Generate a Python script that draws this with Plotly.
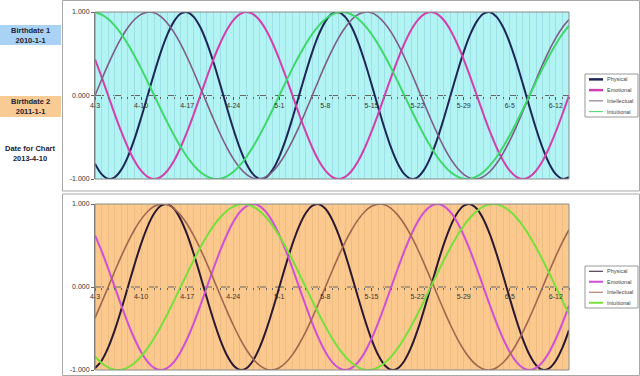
import plotly.graph_objects as go
import pandas as pd

W, H = 640, 376
FONT = "Liberation Sans, Arial, sans-serif"

# ---------------- data ----------------
START_DATE = "2013-04-03"
N_DAYS = 73
dates = pd.date_range(START_DATE, periods=N_DAYS).strftime("%Y-%m-%d").tolist()

SERIES_NAMES = ["Physical", "Emotional", "Intellectual", "Intuitional"]
LEFT_LABELS = [("Birthdate 1", "2010-1-1"), ("Birthdate 2", "2011-1-1"), ("Date for Chart", "2013-4-10")]

# Panel 1 (birthdate 2010-1-1)
top_physical = [
    -0.817, -0.942, -0.998, -0.979, -0.888, -0.731, -0.520, -0.270,
    0.000, 0.270, 0.520, 0.731, 0.888, 0.979, 0.998, 0.942, 0.817, 0.631, 0.398, 0.136,
    -0.136, -0.398, -0.631, -0.817, -0.942, -0.998, -0.979, -0.888, -0.731, -0.520, -0.270,
    0.000, 0.270, 0.520, 0.731, 0.888, 0.979, 0.998, 0.942, 0.817, 0.631, 0.398, 0.136,
    -0.136, -0.398, -0.631, -0.817, -0.942, -0.998, -0.979, -0.888, -0.731, -0.520, -0.270,
    0.000, 0.270, 0.520, 0.731, 0.888, 0.979, 0.998, 0.942, 0.817, 0.631, 0.398, 0.136,
    -0.136, -0.398, -0.631, -0.817, -0.942, -0.998, -0.979,
]
top_emotional = [
    0.434, 0.223, 0.000, -0.223, -0.434, -0.623, -0.782, -0.901, -0.975, -1.000,
    -0.975, -0.901, -0.782, -0.623, -0.434, -0.223,
    0.000, 0.223, 0.434, 0.623, 0.782, 0.901, 0.975, 1.000, 0.975, 0.901, 0.782, 0.623, 0.434, 0.223,
    0.000, -0.223, -0.434, -0.623, -0.782, -0.901, -0.975, -1.000, -0.975, -0.901, -0.782, -0.623, -0.434, -0.223,
    0.000, 0.223, 0.434, 0.623, 0.782, 0.901, 0.975, 1.000, 0.975, 0.901, 0.782, 0.623, 0.434, 0.223,
    0.000, -0.223, -0.434, -0.623, -0.782, -0.901, -0.975, -1.000, -0.975, -0.901, -0.782, -0.623, -0.434, -0.223,
    0.000,
]
top_intellectual = [
    0.000, 0.189, 0.372, 0.541, 0.690, 0.815, 0.910, 0.972, 0.999, 0.990, 0.945, 0.866, 0.756,
    0.618, 0.458, 0.282, 0.095, -0.095, -0.282, -0.458, -0.618, -0.756, -0.866, -0.945, -0.990,
    -0.999, -0.972, -0.910, -0.815, -0.690, -0.541, -0.372, -0.189,
    0.000, 0.189, 0.372, 0.541, 0.690, 0.815, 0.910, 0.972, 0.999, 0.990, 0.945, 0.866, 0.756,
    0.618, 0.458, 0.282, 0.095, -0.095, -0.282, -0.458, -0.618, -0.756, -0.866, -0.945, -0.990,
    -0.999, -0.972, -0.910, -0.815, -0.690, -0.541, -0.372, -0.189,
    0.000, 0.189, 0.372, 0.541, 0.690, 0.815, 0.910,
]
top_intuitional = [
    0.997, 0.969, 0.916, 0.837, 0.736, 0.614, 0.476, 0.325, 0.165, 0.000,
    -0.165, -0.325, -0.476, -0.614, -0.736, -0.837, -0.916, -0.969, -0.997, -0.997,
    -0.969, -0.916, -0.837, -0.736, -0.614, -0.476, -0.325, -0.165,
    0.000, 0.165, 0.325, 0.476, 0.614, 0.736, 0.837, 0.916, 0.969, 0.997, 0.997, 0.969, 0.916,
    0.837, 0.736, 0.614, 0.476, 0.325, 0.165, 0.000, -0.165, -0.325, -0.476, -0.614, -0.736,
    -0.837, -0.916, -0.969, -0.997, -0.997, -0.969, -0.916, -0.837, -0.736, -0.614, -0.476,
    -0.325, -0.165,
    0.000, 0.165, 0.325, 0.476, 0.614, 0.736, 0.837,
]

# Panel 2 (birthdate 2011-1-1)
bottom_physical = [
    -0.979, -0.888, -0.731, -0.520, -0.270,
    0.000, 0.270, 0.520, 0.731, 0.888, 0.979, 0.998, 0.942, 0.817, 0.631, 0.398, 0.136,
    -0.136, -0.398, -0.631, -0.817, -0.942, -0.998, -0.979, -0.888, -0.731, -0.520, -0.270,
    0.000, 0.270, 0.520, 0.731, 0.888, 0.979, 0.998, 0.942, 0.817, 0.631, 0.398, 0.136,
    -0.136, -0.398, -0.631, -0.817, -0.942, -0.998, -0.979, -0.888, -0.731, -0.520, -0.270,
    0.000, 0.270, 0.520, 0.731, 0.888, 0.979, 0.998, 0.942, 0.817, 0.631, 0.398, 0.136,
    -0.136, -0.398, -0.631, -0.817, -0.942, -0.998, -0.979, -0.888, -0.731, -0.520,
]
bottom_emotional = [
    0.623, 0.434, 0.223, 0.000, -0.223, -0.434, -0.623, -0.782, -0.901, -0.975, -1.000,
    -0.975, -0.901, -0.782, -0.623, -0.434, -0.223,
    0.000, 0.223, 0.434, 0.623, 0.782, 0.901, 0.975, 1.000, 0.975, 0.901, 0.782, 0.623, 0.434, 0.223,
    0.000, -0.223, -0.434, -0.623, -0.782, -0.901, -0.975, -1.000, -0.975, -0.901, -0.782, -0.623, -0.434, -0.223,
    0.000, 0.223, 0.434, 0.623, 0.782, 0.901, 0.975, 1.000, 0.975, 0.901, 0.782, 0.623, 0.434, 0.223,
    0.000, -0.223, -0.434, -0.623, -0.782, -0.901, -0.975, -1.000, -0.975, -0.901, -0.782, -0.623, -0.434, -0.223,
]
bottom_intellectual = [
    -0.372, -0.189,
    0.000, 0.189, 0.372, 0.541, 0.690, 0.815, 0.910, 0.972, 0.999, 0.990, 0.945, 0.866, 0.756,
    0.618, 0.458, 0.282, 0.095, -0.095, -0.282, -0.458, -0.618, -0.756, -0.866, -0.945, -0.990,
    -0.999, -0.972, -0.910, -0.815, -0.690, -0.541, -0.372, -0.189,
    0.000, 0.189, 0.372, 0.541, 0.690, 0.815, 0.910, 0.972, 0.999, 0.990, 0.945, 0.866, 0.756,
    0.618, 0.458, 0.282, 0.095, -0.095, -0.282, -0.458, -0.618, -0.756, -0.866, -0.945, -0.990,
    -0.999, -0.972, -0.910, -0.815, -0.690, -0.541, -0.372, -0.189,
    0.000, 0.189, 0.372, 0.541, 0.690,
]
bottom_intuitional = [
    -0.837, -0.916, -0.969, -0.997, -0.997, -0.969, -0.916, -0.837, -0.736, -0.614, -0.476,
    -0.325, -0.165,
    0.000, 0.165, 0.325, 0.476, 0.614, 0.736, 0.837, 0.916, 0.969, 0.997, 0.997, 0.969, 0.916,
    0.837, 0.736, 0.614, 0.476, 0.325, 0.165, 0.000, -0.165, -0.325, -0.476, -0.614, -0.736,
    -0.837, -0.916, -0.969, -0.997, -0.997, -0.969, -0.916, -0.837, -0.736, -0.614, -0.476,
    -0.325, -0.165,
    0.000, 0.165, 0.325, 0.476, 0.614, 0.736, 0.837, 0.916, 0.969, 0.997, 0.997, 0.969, 0.916,
    0.837, 0.736, 0.614, 0.476, 0.325, 0.165, 0.000, -0.165, -0.325,
]

for s in (top_physical, top_emotional, top_intellectual, top_intuitional,
          bottom_physical, bottom_emotional, bottom_intellectual, bottom_intuitional):
    assert len(s) == N_DAYS, len(s)

Y_TICKS = [-1, 0, 1]
Y_TICKTEXT = ["-1.000", "0.000", "1.000"]

# ---------------- styling ----------------
def pxx(x):
    return x / W


def pyy(y):
    return 1 - y / H


panels = [
    dict(sfx="", data=[top_physical, top_emotional, top_intellectual, top_intuitional],
         colors=["#1d2656", "#d23fae", "#7d5d85", "#3fd86a"],
         widths=[2, 2, 1.6, 2],
         legw=[2.5, 2.5, 1, 1],
         bg="#b2f3f3", grid="#9fdfe6",
         ptop=12, pbot=179, frame=(0.5, 191), leg=(74, 117)),
    dict(sfx="2", data=[bottom_physical, bottom_emotional, bottom_intellectual, bottom_intuitional],
         colors=["#2b1831", "#cf4fd6", "#a0664e", "#78e03c"],
         widths=[2, 2, 1.6, 2],
         legw=[1, 2, 1, 2],
         bg="#fbc98d", grid="#eebd84",
         ptop=204, pbot=370, frame=(194, 375.5), leg=(266, 308)),
]

X0, X1 = 95, 569
fig = go.Figure()
shapes = []
annotations = []

for p in panels:
    xa, ya = "x" + p["sfx"], "y" + p["sfx"]
    for name, vals, col, w in zip(SERIES_NAMES, p["data"], p["colors"], p["widths"]):
        fig.add_trace(go.Scatter(
            x=dates, y=vals, mode="lines", name=name, showlegend=False,
            line=dict(color=col, width=w, shape="spline", smoothing=1),
            xaxis=xa, yaxis=ya, hoverinfo="skip"))

    ydom = [pyy(p["pbot"]), pyy(p["ptop"])]
    zero_pos = (ydom[0] + ydom[1]) / 2
    fig.layout["xaxis" + p["sfx"]] = dict(
        domain=[pxx(X0), pxx(X1)], type="date", range=[dates[0], dates[-1]],
        anchor="free", position=zero_pos, automargin=False,
        tick0=dates[0], dtick=7 * 86400000, tickformat="%-m-%-d",
        ticks="outside", ticklen=3, tickcolor="#555",
        showgrid=True, gridcolor=p["grid"], gridwidth=1,
        minor=dict(dtick=86400000, showgrid=True, gridcolor=p["grid"], gridwidth=1,
                   ticks="outside", ticklen=2, tickcolor="#666"),
        showline=False, zeroline=False,
        tickfont=dict(family=FONT, size=7, color="#333"),
    )
    fig.layout["yaxis" + p["sfx"]] = dict(
        domain=ydom, range=[-1, 1], anchor=xa, automargin=False,
        tickvals=Y_TICKS, ticktext=Y_TICKTEXT,
        ticks="outside", ticklen=3, tickcolor="#666",
        showgrid=False, zeroline=False, showline=True, linecolor="#777", linewidth=1,
        tickfont=dict(family=FONT, size=7, color="#333"),
    )
    # plot background
    shapes.append(dict(type="rect", xref=xa + " domain", yref=ya + " domain",
                       x0=0, x1=1, y0=0, y1=1, fillcolor=p["bg"], line=dict(width=0), layer="below"))
    # dashed zero line
    shapes.append(dict(type="line", xref=xa + " domain", yref=ya, x0=0, x1=1, y0=0, y1=0,
                       line=dict(color="#666", width=1, dash="dash"), layer="below"))
    # plot border
    shapes.append(dict(type="rect", xref=xa + " domain", yref=ya + " domain",
                       x0=0, x1=1, y0=0, y1=1, line=dict(color="#8a8a8a", width=1), layer="above"))
    # chart frame
    fy0, fy1 = p["frame"]
    shapes.append(dict(type="rect", xref="paper", yref="paper", x0=pxx(62.5), x1=pxx(639.5),
                       y0=pyy(fy1), y1=pyy(fy0), line=dict(color="#a8a8a8", width=1)))
    # legend box
    ly0, ly1 = p["leg"]
    shapes.append(dict(type="rect", xref="paper", yref="paper", x0=pxx(585), x1=pxx(638),
                       y0=pyy(ly1), y1=pyy(ly0), line=dict(color="#999", width=1),
                       fillcolor="white"))
    step = (ly1 - ly0) / 4
    for i, (name, col, lw) in enumerate(zip(SERIES_NAMES, p["colors"], p["legw"])):
        yy = ly0 + step * (i + 0.5)
        shapes.append(dict(type="line", xref="paper", yref="paper", x0=pxx(589), x1=pxx(603),
                           y0=pyy(yy), y1=pyy(yy), line=dict(color=col, width=lw)))
        annotations.append(dict(xref="paper", yref="paper", x=pxx(604.5), y=pyy(yy),
                                xanchor="left", yanchor="middle", showarrow=False, text=name,
                                font=dict(family=FONT, size=5.5, color="#444")))

# left-hand labels
left_boxes = [(25, 45, "#a9d2f4"), (96, 117, "#f9cb94"), (143, 165, None)]
for (l1, l2), (by0, by1, fill) in zip(LEFT_LABELS, left_boxes):
    if fill:
        shapes.append(dict(type="rect", xref="paper", yref="paper", x0=0, x1=pxx(61),
                           y0=pyy(by1), y1=pyy(by0), fillcolor=fill, line=dict(width=0),
                           layer="below"))
    annotations.append(dict(xref="paper", yref="paper", x=pxx(30.5), y=pyy((by0 + by1) / 2),
                            xanchor="center", yanchor="middle", showarrow=False,
                            text=f"<b>{l1}</b><br><b>{l2}</b>",
                            font=dict(family=FONT, size=7.5, color="#222236")))

fig.update_layout(
    width=W, height=H, margin=dict(l=0, r=0, t=0, b=0, autoexpand=False),
    paper_bgcolor="white", plot_bgcolor="white",
    shapes=shapes, annotations=annotations, showlegend=False,
    font=dict(family=FONT),
)

fig.write_html("out.html")
